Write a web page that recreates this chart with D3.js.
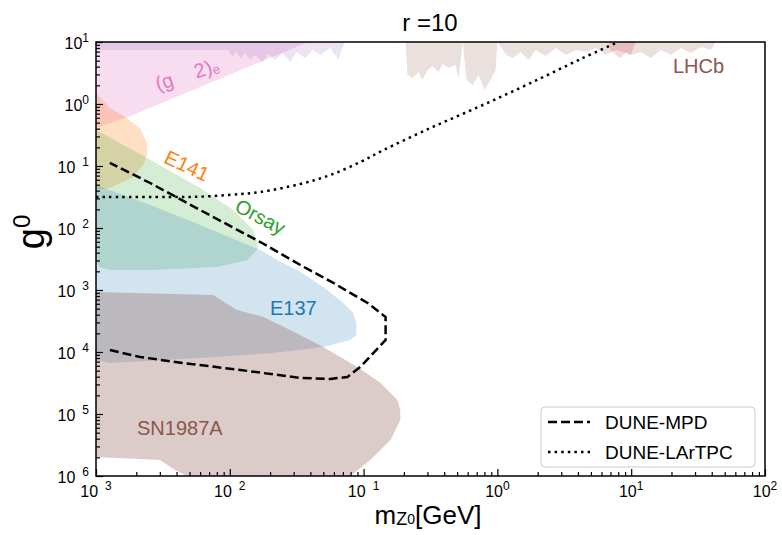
<!DOCTYPE html>
<html>
<head>
<meta charset="utf-8">
<script src="https://cdn.jsdelivr.net/npm/d3@7"></script>
<style>
  body { margin: 0; background: #fff; }
  text { font-family: "Liberation Sans", Arial, sans-serif; }
</style>
</head>
<body>
<svg id="chart" width="782" height="535"></svg>
<script>
// ---- Data: [mass in GeV, coupling g] ----
const gm2 = [[1e-3, 10], [3.86e-2, 10], [2.26e-2, 6.17], [1.89e-3, 0.665], [1e-3, 0.41]];

const topBand = [[1e-3, 10], [1e-3, 7.43], [9.7e-3, 7.43], [1.04e-2, 5.94], [1.12e-2, 6.9], [1.2e-2, 5.52],
  [1.3e-2, 6.65], [1.42e-2, 5.13], [1.55e-2, 6.17], [1.75e-2, 4.76], [1.94e-2, 6.4], [2.19e-2, 5.13],
  [2.47e-2, 6.65], [2.83e-2, 4.76], [3.14e-2, 6.9], [3.66e-2, 5.52], [4.14e-2, 7.43], [4.75e-2, 6.17],
  [5.64e-2, 8.0], [6.47e-2, 5.13], [6.93e-2, 8.0], [7.31e-2, 10]];

const lhcb = [[0.206, 10], [0.213, 2.94], [0.232, 2.62], [0.257, 3.28], [0.275, 2.44], [0.301, 3.53],
  [0.327, 4.1], [0.363, 3.28], [0.389, 4.42], [0.432, 3.81], [0.486, 4.26], [0.513, 2.62], [0.55, 10],
  [0.587, 2.44], [0.652, 2.02], [0.723, 2.94], [0.802, 1.68], [0.889, 2.44], [0.97, 3.53], [1.0, 10],
  [1.17, 6.17], [1.3, 5.52], [1.49, 6.9], [1.71, 5.13], [1.93, 7.43], [2.3, 5.94], [2.73, 8.0],
  [3.24, 6.17], [3.85, 7.43], [4.57, 6.9], [5.43, 8.0], [6.45, 6.17], [7.67, 7.43], [9.93, 6.17],
  [11.8, 6.9], [14.0, 5.52], [16.7, 7.43], [19.8, 6.17], [23.5, 8.0], [27.9, 6.65], [33.2, 8.3],
  [39.4, 7.43], [43.0, 10]];

const lhcbPeak = [[6.8, 10], [7.03, 7.43], [7.67, 6.17], [8.36, 5.52], [9.12, 6.9], [9.93, 6.17], [10.8, 10]];

const e141 = [[1e-3, 1.5], [1.07e-3, 1.3], [1.27e-3, 0.861], [1.65e-3, 0.617], [2.13e-3, 0.41],
  [2.41e-3, 0.235], [2.41e-3, 0.15], [2.25e-3, 0.104], [1.89e-3, 6.65e-2], [1.27e-3, 4.42e-2], [1e-3, 4.1e-2]];

const orsay = [[1e-3, 0.381], [2.41e-3, 0.135], [6.0e-3, 4.42e-2], [1.06e-2, 1.95e-2], [1.5e-2, 9.28e-3],
  [1.63e-2, 5.32e-3], [1.6e-2, 4.42e-3], [1.35e-2, 3.05e-3], [8.05e-3, 2.35e-3], [2.54e-3, 2.1e-3],
  [1.27e-3, 2.1e-3], [1.07e-3, 2.35e-3], [1e-3, 2.83e-3]];

const e137 = [[1e-3, 4.94e-2], [2.54e-3, 2.35e-2], [6.0e-3, 1.12e-2], [1.69e-2, 4.42e-3], [2.26e-2, 3.05e-3],
  [3.19e-2, 2.1e-3], [5.0e-2, 1.12e-3], [7.06e-2, 6.17e-4], [8.39e-2, 4.25e-4], [8.83e-2, 2.94e-4],
  [8.83e-2, 1.88e-4], [7.96e-2, 1.56e-4], [5.0e-2, 1.2e-4], [2.11e-2, 9.64e-5], [6.0e-3, 8.0e-5],
  [1.27e-3, 6.65e-5], [1e-3, 7.43e-5]];

const sn1987a = [[1e-3, 9.28e-4], [7.5e-3, 8.3e-4], [1.13e-2, 4.75e-4], [1.78e-2, 3.67e-4], [2.83e-2, 2.26e-4],
  [5.0e-2, 1.2e-4], [8.99e-2, 5.73e-5], [0.134, 3.16e-5], [0.179, 1.68e-5], [0.188, 1.16e-5],
  [0.188, 8.0e-6], [0.159, 3.81e-6], [0.112, 1.81e-6], [7.96e-2, 1e-6], [4.8e-3, 1e-6],
  [3.9e-3, 1.25e-6], [3.01e-3, 1.81e-6], [1e-3, 2.03e-6]];

const duneMPD = [[1.27e-3, 1.08e-4], [2.13e-3, 8.3e-5], [4.48e-3, 6.65e-5], [1.2e-2, 5.13e-5], [3.37e-2, 3.81e-5],
  [5.64e-2, 3.67e-5], [7.57e-2, 3.96e-5], [9.46e-2, 5.73e-5], [0.146, 1.56e-4], [0.146, 3.67e-4],
  [0.107, 6.17e-4], [5.94e-2, 1.3e-3], [3.37e-2, 2.53e-3], [1.69e-2, 5.94e-3], [6.0e-3, 1.95e-2],
  [2.54e-3, 5.32e-2], [1.27e-3, 0.112]];

const duneLAr = [[1e-3, 3.16e-2], [4.0e-3, 3.16e-2], [6.0e-3, 3.2e-2], [1.2e-2, 3.53e-2], [1.69e-2, 3.81e-2],
  [3.37e-2, 5.13e-2], [5.64e-2, 7.16e-2], [9.46e-2, 0.116], [0.141, 0.181], [0.316, 0.41], [0.749, 0.929],
  [1.77, 2.18], [4.2, 5.32], [7.67, 9.64]];

const xExps = [-3, -2, -1, 0, 1, 2];
const yExps = [1, 0, -1, -2, -3, -4, -5, -6];

// ---- Layout ----
const svg = d3.select('#chart');
const margin = {top: 42, right: 17, bottom: 59, left: 96};
const W = 782, H = 535;

const x = d3.scaleLog().domain([1e-3, 1e2]).range([margin.left, W - margin.right]);
const y = d3.scaleLog().domain([1e-6, 1e1]).range([H - margin.bottom, margin.top]);

svg.append('clipPath').attr('id', 'plot-clip')
  .append('rect')
  .attr('x', x.range()[0]).attr('y', y.range()[1])
  .attr('width', x.range()[1] - x.range()[0]).attr('height', y.range()[0] - y.range()[1]);

const line = d3.line().x(d => x(d[0])).y(d => y(d[1]));
const smoothLine = d3.line().x(d => x(d[0])).y(d => y(d[1])).curve(d3.curveCatmullRom);

const plot = svg.append('g').attr('clip-path', 'url(#plot-clip)');

// ---- Excluded regions ----
const regions = [
  {pts: gm2, color: '#e377c2', op: 0.25},
  {pts: topBand, color: '#9467bd', op: 0.18},
  {pts: lhcb, color: '#8c564b', op: 0.18},
  {pts: lhcbPeak, color: '#d62728', op: 0.18},
  {pts: e141, color: '#ff7f0e', op: 0.25},
  {pts: orsay, color: '#2ca02c', op: 0.2},
  {pts: e137, color: '#1f77b4', op: 0.2},
  {pts: sn1987a, color: '#8c564b', op: 0.3}
];

plot.selectAll('path.region')
  .data(regions)
  .join('path')
  .attr('class', 'region')
  .attr('d', d => line(d.pts) + 'Z')
  .attr('fill', d => d.color)
  .attr('fill-opacity', d => d.op)
  .attr('stroke', 'none');

// ---- DUNE curves ----
plot.append('path')
  .attr('d', line(duneMPD))
  .attr('fill', 'none').attr('stroke', '#000')
  .attr('stroke-width', 2.5).attr('stroke-dasharray', '9,4');

plot.append('path')
  .attr('d', smoothLine(duneLAr))
  .attr('fill', 'none').attr('stroke', '#000')
  .attr('stroke-width', 2.5).attr('stroke-dasharray', '2.5,4.1');

// ---- Region labels ----
function label(text, color, px, py, angle, anchor) {
  return svg.append('text')
    .attr('transform', `translate(${px},${py}) rotate(${angle})`)
    .attr('text-anchor', anchor || 'start')
    .attr('fill', color)
    .attr('font-size', 20)
    .text(text);
}

const g2 = svg.append('text')
  .attr('transform', 'translate(158,91) rotate(-18)')
  .attr('fill', '#e377c2').attr('font-size', 20);
g2.append('tspan').text('(g ');
g2.append('tspan').attr('fill-opacity', 0).text('−');
g2.append('tspan').text(' 2)');
g2.append('tspan').attr('font-size', 13).attr('dy', 2).text('e');

label('E141', '#ff7f0e', 184, 172, 25, 'middle');
label('Orsay', '#2ca02c', 257, 223, 28, 'middle');
label('E137', '#1f77b4', 270, 315, 0);
label('SN1987A', '#8c564b', 137, 435, 0);
label('LHCb', '#8c564b', 673, 73, 0);

// ---- Axes ----
const minor = [];
d3.range(-3, 2).forEach(e => d3.range(2, 10).forEach(k => minor.push(k * Math.pow(10, e))));
const minorY = [];
d3.range(-6, 1).forEach(e => d3.range(2, 10).forEach(k => minorY.push(k * Math.pow(10, e))));

const xMajor = xExps.map(e => Math.pow(10, e));
const yMajor = yExps.map(e => Math.pow(10, e));

const xAxisG = svg.append('g').attr('transform', `translate(0,${y.range()[0]})`);
xAxisG.call(d3.axisBottom(x).tickValues(xMajor).tickSize(-7).tickFormat(''));
xAxisG.append('g').call(d3.axisBottom(x).tickValues(minor).tickSize(-4).tickFormat(''));

const yAxisG = svg.append('g').attr('transform', `translate(${x.range()[0]},0)`);
yAxisG.call(d3.axisLeft(y).tickValues(yMajor).tickSize(-7).tickFormat(''));
yAxisG.append('g').call(d3.axisLeft(y).tickValues(minorY).tickSize(-4).tickFormat(''));

svg.selectAll('.domain').remove();
svg.selectAll('.tick line').attr('stroke', '#000').attr('stroke-width', 1.2);

// frame
svg.append('rect')
  .attr('x', x.range()[0]).attr('y', y.range()[1])
  .attr('width', x.range()[1] - x.range()[0]).attr('height', y.range()[0] - y.range()[1])
  .attr('fill', 'none').attr('stroke', '#000').attr('stroke-width', 1.5);

function powLabel(t, e) {
  t.append('tspan').text('10');
  const sup = t.append('tspan').attr('font-size', 12).attr('dy', -7);
  if (e < 0) {
    sup.attr('fill-opacity', 0).text('−');
    t.append('tspan').attr('font-size', 12).text(String(-e));
  } else {
    sup.text(String(e));
  }
}

xExps.forEach(e => {
  const t = svg.append('text')
    .attr('x', x(Math.pow(10, e))).attr('y', 497)
    .attr('text-anchor', 'middle').attr('font-size', 16).attr('fill', '#000');
  powLabel(t, e);
});

yExps.forEach(e => {
  const t = svg.append('text')
    .attr('x', 89).attr('y', y(Math.pow(10, e)) + 7)
    .attr('text-anchor', 'end').attr('font-size', 16).attr('fill', '#000');
  powLabel(t, e);
});

// ---- Titles ----
svg.append('text')
  .attr('x', 430).attr('y', 31)
  .attr('text-anchor', 'middle').attr('font-size', 24)
  .text('r =10');

const xl = svg.append('text')
  .attr('x', 428).attr('y', 524)
  .attr('text-anchor', 'middle').attr('font-size', 26);
xl.append('tspan').text('m');
xl.append('tspan').attr('font-size', 18).attr('dy', 1).text('Z');
xl.append('tspan').attr('font-size', 14).attr('dy', -1).text('0');
xl.append('tspan').text('[GeV]');

const yl = svg.append('text')
  .attr('transform', 'translate(44,232) rotate(-90)')
  .attr('text-anchor', 'middle').attr('font-size', 38);
yl.append('tspan').text('g');
yl.append('tspan').attr('font-size', 24).attr('dy', -14).text('0');

// ---- Legend ----
const legend = svg.append('g');
legend.append('rect')
  .attr('x', 541).attr('y', 407).attr('width', 214).attr('height', 60)
  .attr('rx', 4).attr('fill', '#fff').attr('fill-opacity', 0.8)
  .attr('stroke', '#ccc').attr('stroke-width', 1);

const legendItems = [
  {name: 'DUNE-MPD', dash: '9,4'},
  {name: 'DUNE-LArTPC', dash: '2.5,4.1'}
];
legendItems.forEach((d, i) => {
  const ly = 422 + i * 30;
  legend.append('line')
    .attr('x1', 548).attr('x2', 590).attr('y1', ly).attr('y2', ly)
    .attr('stroke', '#000').attr('stroke-width', 2.5).attr('stroke-dasharray', d.dash);
  legend.append('text')
    .attr('x', 605).attr('y', ly + 6.5)
    .attr('font-size', 19).text(d.name);
});
</script>
</body>
</html>
